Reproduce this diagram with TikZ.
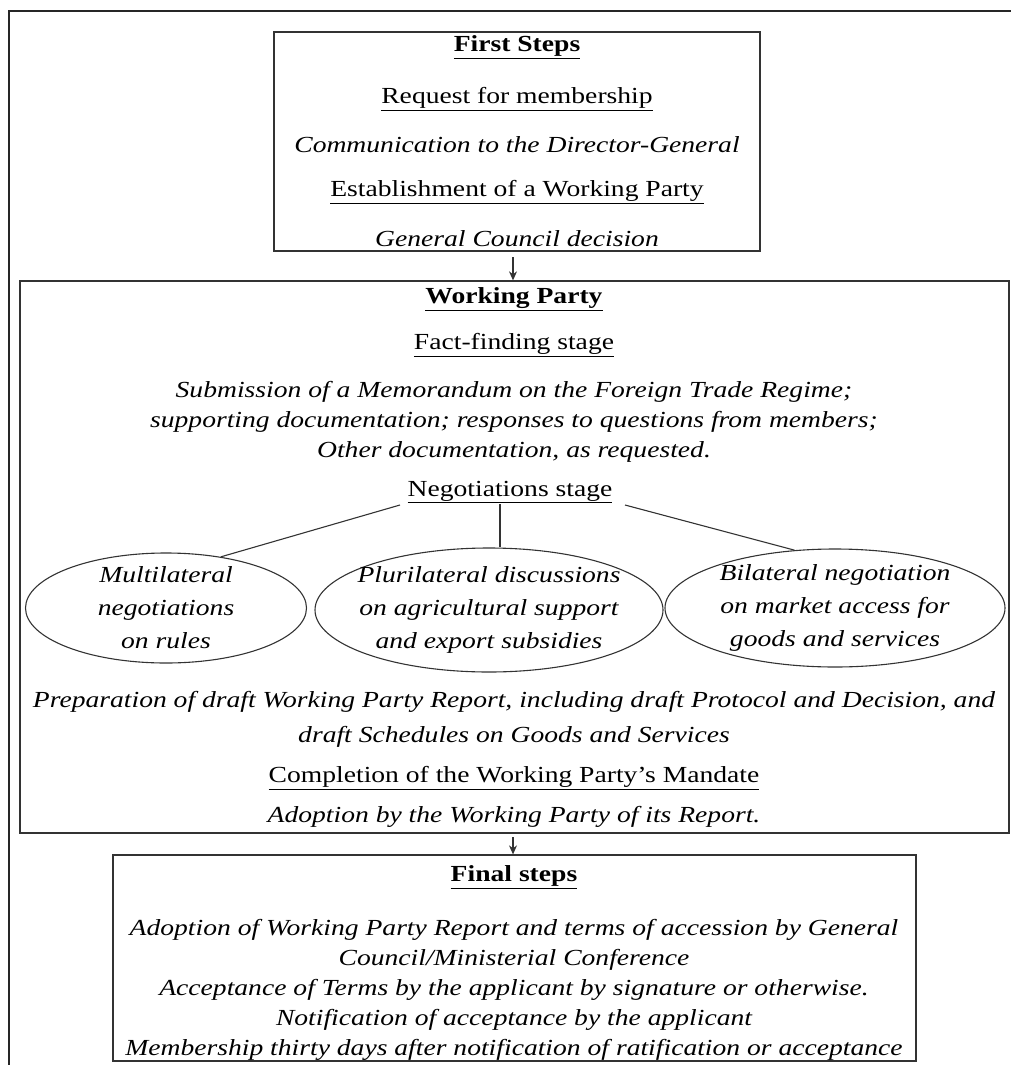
\documentclass[tikz,border=0pt]{standalone}
\usepackage{fontspec}
\setmainfont[FakeStretch=1.2]{Liberation Serif}
\usetikzlibrary{shapes.geometric, arrows.meta}

\begin{document}
\begin{tikzpicture}[
    x=1pt, y=-1pt,
    frame/.style={
        rectangle,
        draw=black!80,
        line width=1.3pt,
        inner sep=0pt
    },
    txt/.style={
        align=center,
        inner sep=0pt,
        font=\fontsize{23}{30}\selectfont
    },
    ittxt/.style={txt, font=\fontsize{23}{30}\selectfont\itshape},
    ovaltxt/.style={txt, font=\fontsize{23}{33}\selectfont\itshape},
    oval/.style={
        ellipse,
        draw=black!80,
        line width=1.1pt,
        inner sep=0pt
    },
    link/.style={draw=black!80, line width=1.1pt}
]
\useasboundingbox (0,0) rectangle (1011,1065);
\draw[black!85, line width=1.5pt] (9,1065) -- (9,11) -- (1011,11);

% boxes
\node[frame, minimum width=486pt, minimum height=219pt] (first) at (517,141.5) {};
\node[frame, minimum width=989pt, minimum height=552pt] (party) at (514.5,557) {};
\node[frame, minimum width=803pt, minimum height=206pt] (final) at (514.5,958) {};

% first steps
\node[txt] (fs) at (517,47) {\textbf{\underline{First Steps}}};
\node[txt] (req) at (517,99) {\underline{Request for membership}};
\node[ittxt] (comm) at (517,145) {Communication to the Director-General};
\node[txt] (est) at (517,192) {\underline{Establishment of a Working Party}};
\node[ittxt] (gcd) at (517,239) {General Council decision};

% working party
\node[txt] (wp) at (514,299) {\textbf{\underline{Working Party}}};
\node[txt] (fact) at (514,345) {\underline{Fact-finding stage}};
\node[ittxt] (memo) at (514,422) {Submission of a Memorandum on the Foreign Trade Regime;\\
    supporting documentation; responses to questions from members;\\
    Other documentation, as requested.};
\node[txt] (neg) at (510,492) {\underline{Negotiations stage}};

\node[oval, minimum width=281pt, minimum height=110pt] (multi) at (166,608) {};
\node[oval, minimum width=348pt, minimum height=124pt] (pluri) at (489,610) {};
\node[oval, minimum width=340pt, minimum height=118pt] (bi) at (835,608) {};
\node[ovaltxt] at (multi) {Multilateral\\negotiations\\on rules};
\node[ovaltxt] at (pluri) {Plurilateral discussions\\on agricultural support\\and export subsidies};
\node[ovaltxt] at (bi) {Bilateral negotiation\\on market access for\\goods and services};

\coordinate (negl) at (400,505);
\coordinate (negm) at (500,504);
\coordinate (negr) at (625,505);
\draw[link] (negl) -- (multi.43);
\draw[link] (negr) -- (bi.125);
\draw[link] (negm) -- (negm |- pluri.north);

\node[ittxt, font=\fontsize{23}{35}\selectfont\itshape] (prep) at (514,719) {Preparation of draft Working Party Report, including draft Protocol and Decision, and\\
    draft Schedules on Goods and Services};
\node[txt] (compl) at (514,778) {\underline{Completion of the Working Party's Mandate}};
\node[ittxt] (adopt) at (514,817) {Adoption by the Working Party of its Report.};

% final steps
\node[txt] (fin) at (514,877) {\textbf{\underline{Final steps}}};
\node[ittxt] (terms) at (514,990) {Adoption of Working Party Report and terms of accession by General\\
    Council/Ministerial Conference\\
    Acceptance of Terms by the applicant by signature or otherwise.\\
    Notification of acceptance by the applicant\\
    Membership thirty days after notification of ratification or acceptance};

\coordinate (a1) at (513,257);
\coordinate (a2) at (513,837);
\draw[-{Stealth[length=9pt,width=8pt]}, link] (a1) -- (a1 |- party.north);
\draw[-{Stealth[length=9pt,width=8pt]}, link] (a2) -- (a2 |- final.north);

\end{tikzpicture}
\end{document}
